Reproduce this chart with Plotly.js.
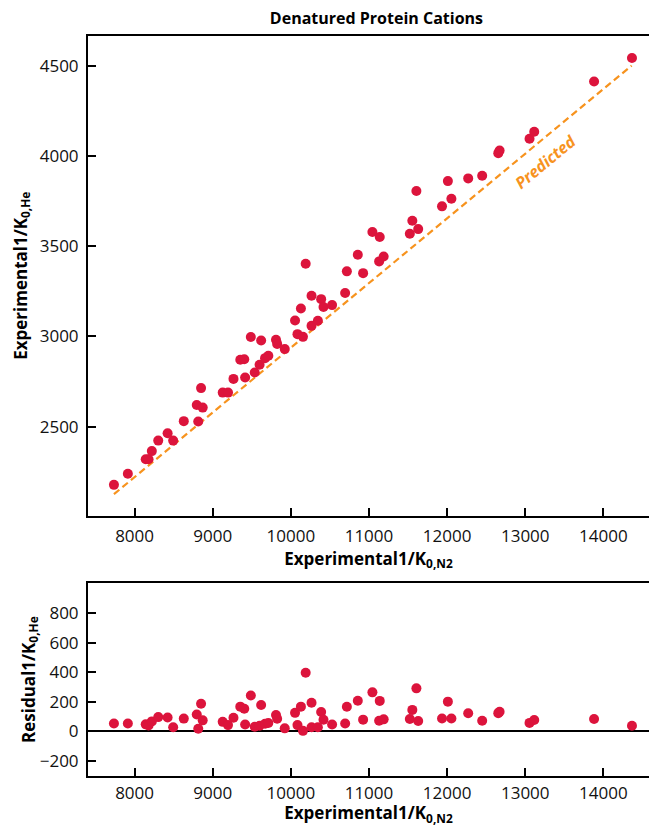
<!DOCTYPE html>
<html>
<head>
<meta charset="utf-8">
<script src="https://cdn.plot.ly/plotly-3.0.1.min.js"></script>
<style>html,body{margin:0;padding:0;background:#fff;}#chart{width:649px;height:826px;}</style>
</head>
<body>
<div id="chart"></div>
<script>
// Experimental 1/K0,N2 (x), Experimental 1/K0,He (y), residual 1/K0,He
const expN2 = [7736, 7914, 8143, 8179, 8221, 8303, 8423, 8494, 8630, 8815, 8796, 8872, 8851, 9128, 9196, 9266, 9415, 9353, 9404, 9488, 9538, 9620, 9600, 9670, 9712, 9810, 9825, 9922, 10054, 10085, 10155, 10129, 10190, 10265, 10265, 10346, 10388, 10418, 10528, 10695, 10717, 10857, 10925, 11044, 11138, 11130, 11188, 11523, 11555, 11607, 11630, 11935, 12010, 12055, 12270, 12449, 12655, 12672, 13055, 13115, 13881, 14366];
const expHe = [2177, 2238, 2319, 2319, 2364, 2422, 2463, 2422, 2530, 2528, 2619, 2605, 2713, 2688, 2688, 2764, 2772, 2870, 2873, 2996, 2799, 2977, 2842, 2879, 2892, 2981, 2958, 2929, 3088, 3012, 2997, 3154, 3402, 3225, 3058, 3086, 3206, 3162, 3173, 3240, 3360, 3452, 3350, 3578, 3550, 3415, 3442, 3568, 3640, 3805, 3594, 3720, 3860, 3762, 3875, 3890, 4015, 4030, 4095, 4133, 4412, 4542];
const residHe = [54, 54, 48, 40, 68, 97, 94, 28, 87, 18, 115, 75, 188, 65, 43, 93, 47, 168, 154, 243, 32, 179, 38, 52, 57, 112, 86, 21, 126, 43, 4, 168, 398, 195, 28, 28, 132, 79, 47, 54, 167, 208, 80, 265, 207, 72, 82, 84, 146, 292, 71, 88, 202, 88, 123, 72, 124, 134, 58, 78, 84, 39];
// Predicted line end points
const predX = [7736, 14362];
const predY = [2125, 4500];

const xTicks = [8000, 9000, 10000, 11000, 12000, 13000, 14000];
const yTicksTop = [2500, 3000, 3500, 4000, 4500];
const yTicksBot = [-200, 0, 200, 400, 600, 800];

const FONT = 'Open Sans, Noto Sans, Liberation Sans, sans-serif';
const red = '#DC143C';
const orange = '#F7931E';

const traces = [
  {x: predX, y: predY, type: 'scatter', mode: 'lines', xaxis: 'x', yaxis: 'y',
   line: {color: orange, width: 2.2, dash: '7px,4px'}, hoverinfo: 'skip', showlegend: false},
  {x: expN2, y: expHe, type: 'scatter', mode: 'markers', xaxis: 'x', yaxis: 'y',
   marker: {color: red, size: 10}, showlegend: false},
  {x: expN2, y: residHe, type: 'scatter', mode: 'markers', xaxis: 'x2', yaxis: 'y2',
   marker: {color: red, size: 10}, showlegend: false}
];

const axisCommon = {
  showline: true, linecolor: '#000', linewidth: 2,
  ticks: 'inside', ticklen: 8, tickwidth: 2, tickcolor: '#000',
  showgrid: false, zeroline: false, tickformat: 'd',
  tickfont: {family: FONT, size: 17, color: '#111'}
};

const layout = {
  width: 649, height: 826,
  margin: {l: 88, r: 0, t: 36, b: 50},
  paper_bgcolor: '#fff', plot_bgcolor: '#fff',
  title: {text: '<b>Denatured Protein Cations</b>', font: {family: FONT, size: 16, color: '#000'},
          x: 0.58, xanchor: 'center', y: 0.978, yanchor: 'middle'},
  xaxis: Object.assign({}, axisCommon, {
    domain: [0, 1], anchor: 'y', range: [7404, 14584], tickvals: xTicks, mirror: true,
    ticklabelstandoff: 4,
    title: {text: '<b>Experimental1/K<sub>0,N2</sub></b>', font: {family: FONT, size: 17, color: '#000'}, standoff: 4}
  }),
  yaxis: Object.assign({}, axisCommon, {
    domain: [0.352, 1], anchor: 'x', range: [2007, 4664], tickvals: yTicksTop,
    ticklabelstandoff: 4,
    title: {text: '<b>Experimental1/K<sub>0,He</sub></b>', font: {family: FONT, size: 17, color: '#000'}, standoff: 8}
  }),
  xaxis2: Object.assign({}, axisCommon, {
    domain: [0, 1], anchor: 'y2', range: [7404, 14584], tickvals: xTicks, mirror: true,
    ticklabelstandoff: 1,
    title: {text: '<b>Experimental1/K<sub>0,N2</sub></b>', font: {family: FONT, size: 17, color: '#000'}, standoff: 6}
  }),
  yaxis2: Object.assign({}, axisCommon, {
    domain: [0, 0.2604], anchor: 'x2', range: [-302, 1004], tickvals: yTicksBot,
    zeroline: true, zerolinecolor: '#000', zerolinewidth: 2,
    ticklabelstandoff: 4,
    title: {text: '<b>Residual1/K<sub>0,He</sub></b>', font: {family: FONT, size: 17, color: '#000'}, standoff: 0}
  }),
  annotations: [
    {x: 13255, y: 3965, xref: 'x', yref: 'y', text: '<b><i>Predicted</i></b>', showarrow: false,
     textangle: -39.6, font: {family: FONT, size: 16, color: orange}}
  ]
};

Plotly.newPlot('chart', traces, layout, {displayModeBar: false, staticPlot: true});
</script>
</body>
</html>
